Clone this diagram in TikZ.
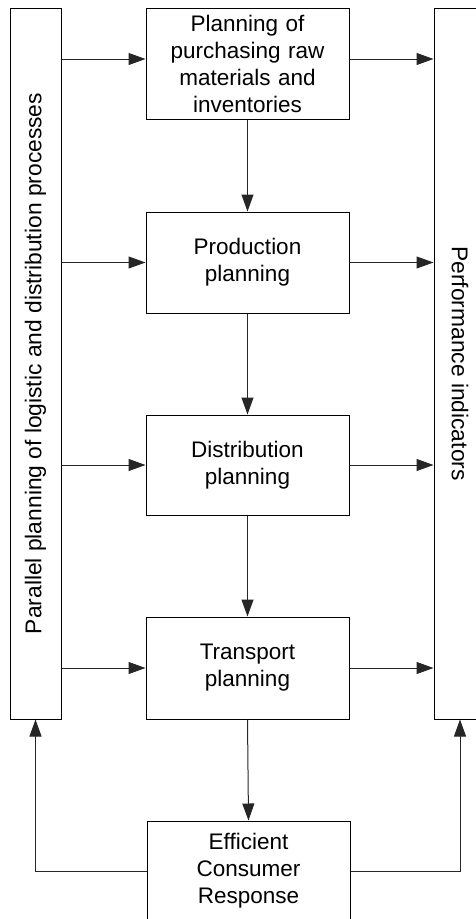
\documentclass[tikz,border=0pt]{standalone}
\usepackage{fontspec}
\setmainfont{Liberation Sans}
\usetikzlibrary{arrows.meta}
\begin{document}
\begin{tikzpicture}[x=1pt,y=-1pt,
  box/.style={draw=black,line width=1pt,inner sep=0pt,minimum width=203pt,align=center,text width=198pt,font=\fontsize{22.5}{27}\selectfont},
  tall/.style={draw=black,line width=1pt,inner sep=0pt,minimum height=711pt},
  vlabel/.style={inner sep=0pt,font=\fontsize{22.8}{27}\selectfont},
  arr/.style={line width=1pt,draw=black!85,-{Triangle[length=17pt,width=12pt]}},
  line/.style={line width=1pt,draw=black!85}]
\useasboundingbox (0,0) rectangle (476,919);
\clip (0,0) rectangle (476,919);
\node[tall,minimum width=51pt] (lb) at (35.5,363.5) {};
\node[tall,minimum width=52pt] (rb) at (460,363.5) {};
\node[vlabel,rotate=90] (lbt) at (lb.center) {Parallel planning of logistic and distribution processes};
\node[vlabel,rotate=-90] (rbt) at (rb.center) {Performance indicators};
\node[box,minimum height=111pt] (b1) at (247.5,63.5) {Planning of\\purchasing raw\\materials and\\inventories};
\node[box,minimum height=101pt] (b2) at (247.5,262.5) {Production\\planning};
\node[box,minimum height=100pt] (b3) at (247.5,465) {Distribution\\planning};
\node[box,minimum height=102pt] (b4) at (247.5,668) {Transport\\planning};
\node[box,minimum height=100pt] (ecr) at (248.5,871) {Efficient\\Consumer\\Response};
\coordinate (a1) at ([yshift=4.5pt]b1.west);
\coordinate (c1) at ([yshift=4.5pt]b1.east);
\draw[arr] (lb.east |- a1) -- (a1);
\draw[arr] (lb.east |- b2.west) -- (b2.west);
\draw[arr] (lb.east |- b3.west) -- (b3.west);
\draw[arr] (lb.east |- b4.west) -- (b4.west);
\draw[arr] (c1) -- (rb.west |- c1);
\draw[arr] (b2.east) -- (rb.west |- b2.east);
\draw[arr] (b3.east) -- (rb.west |- b3.east);
\draw[arr] (b4.east) -- (rb.west |- b4.east);
\draw[arr] (b1.south) -- (b2.north);
\draw[arr] (b2.south) -- (b3.north);
\draw[arr] (b3.south) -- (b4.north);
\draw[arr] (b4.south) -- (ecr.north);
\draw[arr] (ecr.west) -| (lb.south);
\draw[arr] (ecr.east) -| (rb.south);
\end{tikzpicture}
\end{document}
